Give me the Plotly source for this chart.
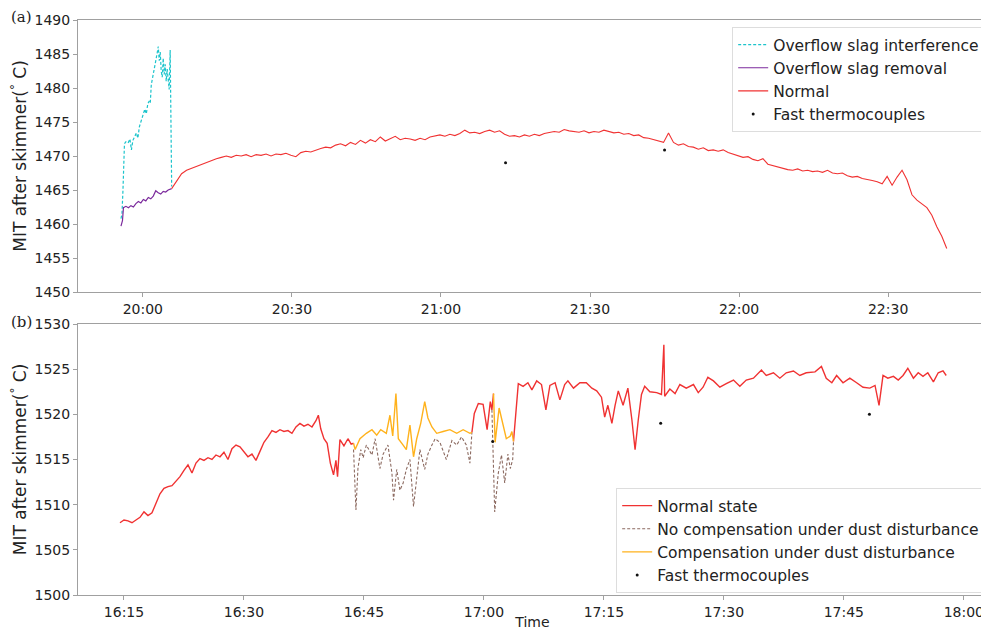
import pandas as pd
import plotly.graph_objects as go
from plotly.subplots import make_subplots

# ---------------- Panel (a): minutes after 20:00 ----------------
a_cyan_t = [-4.4, -4.2, -4.0, -3.7, -3.3, -2.9, -2.6, -2.3, -2.0, -1.6, -1.3, -1.0, -0.7, -0.4, -0.1,
            0.2, 0.4, 0.7, 1.0, 1.3, 1.5, 1.7, 2.0, 2.3, 2.6, 2.9, 3.1, 3.3, 3.5, 3.7, 3.9, 4.1,
            4.3, 4.5, 4.7, 4.9, 5.1, 5.3, 5.5, 5.65, 5.8]
a_cyan_v = [1460.8, 1461.5, 1465.0, 1471.8, 1472.2, 1472.0, 1472.5, 1470.9, 1472.3, 1473.0, 1473.4,
            1472.6, 1474.3, 1475.0, 1475.8, 1476.5, 1476.9, 1476.2, 1477.7, 1478.1, 1477.8, 1480.5,
            1481.5, 1483.0, 1484.0, 1485.2, 1486.1, 1484.0, 1485.3, 1482.5, 1481.6, 1484.4, 1482.0,
            1483.5, 1481.0, 1482.8, 1480.6, 1479.8, 1485.6, 1472.0, 1465.5]

a_purple_t = [-4.4, -4.1, -3.9, -3.4, -2.9, -2.4, -1.9, -1.4, -0.9, -0.4, 0.1, 0.6, 1.1, 1.6, 2.1,
              2.6, 3.1, 3.6, 4.1, 4.6, 5.1, 5.6, 5.8]
a_purple_v = [1459.7, 1460.5, 1462.4, 1462.6, 1462.4, 1462.7, 1462.5, 1463.0, 1463.3, 1463.1, 1463.6,
              1463.4, 1463.9, 1463.7, 1464.1, 1464.9, 1464.6, 1464.4, 1464.8, 1464.7, 1465.0, 1465.1,
              1465.2]

a_red_start = 5.8   # minutes after 20:00, one sample per minute
a_red_v = [1465.2, 1466.3, 1467.4, 1467.9, 1468.2, 1468.5, 1468.7, 1469.1, 1469.3, 1469.6,
           1469.8, 1470.0, 1469.8, 1470.1, 1470.0, 1470.2, 1469.9, 1470.2, 1470.1, 1470.3,
           1470.0, 1470.3, 1470.2, 1470.4, 1470.1, 1469.9, 1470.5, 1470.7, 1470.6, 1470.9,
           1471.1, 1471.3, 1471.2, 1471.6, 1471.8, 1471.5, 1472.0, 1471.7, 1472.3, 1471.9,
           1472.4, 1472.1, 1472.8, 1472.2, 1472.5, 1472.9, 1472.4, 1472.6, 1472.5, 1472.3,
           1472.6, 1472.4, 1472.8, 1472.9, 1473.1, 1472.9, 1473.2, 1473.0, 1473.3, 1473.8,
           1473.4, 1473.5, 1473.3, 1473.6, 1473.8, 1473.5, 1473.7, 1473.2, 1472.9, 1473.0,
           1472.8, 1473.1, 1472.9, 1473.2, 1473.0, 1473.3, 1473.4, 1473.6, 1473.5, 1473.9,
           1473.7, 1473.6, 1473.5, 1473.7, 1473.4, 1473.6, 1473.5, 1473.8, 1473.6, 1473.4,
           1473.5, 1473.2, 1473.3, 1473.0, 1473.1, 1472.7, 1472.6, 1472.4, 1472.2, 1472.0,
           1473.4, 1472.0, 1471.6, 1471.8, 1471.4, 1471.3, 1471.0, 1471.2, 1470.8, 1470.9,
           1470.7, 1470.9, 1470.5, 1470.3, 1470.0, 1469.8, 1469.9, 1469.5, 1469.3, 1469.6,
           1468.8, 1468.6, 1468.4, 1468.1, 1468.0, 1467.9, 1468.1, 1467.8, 1467.9, 1467.7,
           1467.8, 1467.6, 1467.9, 1467.5, 1467.4, 1467.5, 1467.1, 1466.9, 1467.0, 1466.7,
           1466.6, 1466.4, 1466.2, 1465.9, 1467.0, 1465.7, 1466.9, 1467.9, 1466.5, 1464.3,
           1463.5, 1462.9, 1462.4, 1461.3, 1459.6, 1458.2, 1456.4]

a_dots_t = [73.0, 105.0]
a_dots_v = [1469.0, 1470.9]

# ---------------- Panel (b): minutes after 16:15 ----------------
b_red1_t = [-0.5, 0.0, 0.5, 1.0, 1.5, 2.0, 2.5, 3.0, 3.5, 4.0, 4.5, 5.0, 5.5, 6.0, 6.5, 7.0, 7.5,
            8.0, 8.5, 9.0, 9.5, 10.0, 10.5, 11.0, 11.5, 12.0, 12.5, 13.0, 13.5, 14.0, 14.5, 15.0,
            15.5, 16.0, 16.5, 17.0, 17.5, 18.0, 18.5, 19.0, 19.5, 20.0, 20.5, 21.0, 21.5, 22.0,
            22.5, 23.0, 23.5, 24.0, 24.3, 24.6, 25.0, 25.4, 25.8, 26.2, 26.5, 26.7, 27.0, 27.5,
            28.0, 28.4, 28.7]
b_red1_v = [1508.0, 1508.3, 1508.2, 1508.0, 1508.3, 1508.6, 1509.2, 1508.8, 1509.1, 1510.2,
            1511.2, 1511.8, 1512.0, 1512.1, 1512.6, 1513.1, 1513.8, 1514.4, 1513.5, 1514.6,
            1515.1, 1514.9, 1515.2, 1515.0, 1515.5, 1515.3, 1515.8, 1515.0, 1516.2, 1516.6,
            1516.4, 1515.9, 1515.3, 1515.6, 1514.9, 1515.9, 1516.9, 1517.5, 1518.2, 1518.0,
            1518.3, 1518.1, 1518.2, 1517.9, 1518.6, 1519.0, 1518.7, 1518.9, 1518.6, 1519.3,
            1519.9, 1518.4, 1517.3, 1516.8, 1514.6, 1513.3, 1514.9, 1513.1, 1517.2, 1516.5,
            1517.3, 1516.7, 1516.8]
b_red2_t = [43.5, 43.8, 44.3, 44.9, 45.4, 45.8, 46.0, 46.2]
b_red2_v = [1518.0, 1520.1, 1521.2, 1521.1, 1518.3, 1521.4, 1520.5, 1522.3]
b_red3_t = [48.7, 49.3, 49.9, 50.5, 51.0, 51.6, 52.2, 52.75, 53.25, 53.9, 54.5, 55.1, 55.5, 56.2,
            57.0, 57.8, 58.5, 59.1, 59.7, 60.1, 60.5, 61.0, 61.4, 61.8, 62.4, 63.0, 63.5, 63.9,
            64.3, 64.7, 65.1, 65.75, 66.6, 67.2, 67.5, 67.6, 68.25, 68.9, 69.5, 70.3, 71.2, 71.8,
            72.4, 73.0, 73.7, 74.5, 75.3, 76.2, 77.0, 77.8, 78.7, 79.7, 80.3, 81.2, 82.0, 82.8,
            83.7, 84.5, 85.3, 86.4, 87.2, 87.8, 88.5, 89.1, 89.9, 90.75, 91.6, 92.4, 93.25, 93.9,
            94.4, 94.9, 95.5, 96.2, 96.8, 97.4, 98.0, 98.7, 99.3, 99.9, 100.5, 101.2, 101.8,
            102.4, 102.8]
b_red3_v = [1517.0, 1523.4, 1523.1, 1523.5, 1522.7, 1523.7, 1523.3, 1520.5, 1523.2, 1523.5,
            1521.6, 1523.3, 1523.7, 1522.9, 1523.5, 1523.5, 1522.9, 1522.6, 1521.9, 1519.7,
            1521.0, 1519.0, 1521.0, 1522.6, 1521.0, 1522.9, 1519.4, 1516.1, 1519.4, 1522.2,
            1523.1, 1522.5, 1522.4, 1522.2, 1527.7, 1522.0, 1522.8, 1522.3, 1523.3, 1522.9,
            1523.3, 1522.4, 1523.0, 1524.1, 1523.7, 1523.0, 1523.4, 1523.8, 1523.1, 1523.8,
            1524.0, 1524.9, 1524.3, 1524.6, 1524.0, 1524.6, 1524.8, 1524.3, 1524.6, 1524.7,
            1525.3, 1524.0, 1523.5, 1524.3, 1523.5, 1524.0, 1523.5, 1523.0, 1522.9, 1523.2,
            1521.0, 1524.3, 1524.0, 1524.2, 1523.8, 1524.3, 1525.1, 1524.0, 1524.6, 1524.2,
            1524.6, 1523.6, 1524.6, 1524.8, 1524.3]

b_orange1_t = [28.7, 28.9, 29.5, 30.3, 31.0, 31.6, 32.1, 32.8, 33.25, 33.6, 34.0, 34.3, 34.9, 35.3,
               35.75, 36.2, 36.6, 37.1, 37.6, 38.0, 38.5, 39.1, 39.9, 40.75, 41.6, 42.4, 43.25, 43.5]
b_orange1_v = [1516.8, 1516.1, 1517.3, 1517.9, 1518.3, 1517.7, 1518.3, 1517.9, 1519.9, 1517.6,
               1522.3, 1517.3, 1516.6, 1516.1, 1518.8, 1515.3, 1517.3, 1519.0, 1521.4, 1519.6,
               1518.6, 1517.9, 1518.1, 1518.3, 1517.9, 1518.3, 1517.9, 1518.0]
b_orange2_t = [46.2, 46.4, 46.9, 47.4, 47.8, 48.3, 48.5, 48.7]
b_orange2_v = [1522.3, 1516.9, 1520.7, 1518.6, 1517.3, 1517.6, 1518.1, 1517.0]

b_grey1_t = [28.7, 29.0, 29.25, 29.6, 29.9, 30.3, 31.0, 31.4, 32.0, 32.4, 33.0, 33.5, 33.7, 34.1,
             34.5, 34.9, 35.3, 35.75, 36.2, 36.6, 37.0, 37.6, 38.0, 38.5, 38.9, 39.5, 40.3, 41.0,
             41.6, 42.2, 42.8, 43.25, 43.5]
b_grey1_v = [1516.1, 1509.4, 1514.0, 1516.1, 1515.2, 1516.6, 1515.5, 1517.3, 1514.0, 1515.6,
             1516.6, 1513.5, 1510.5, 1513.9, 1511.6, 1512.4, 1513.9, 1515.0, 1509.8, 1513.0,
             1516.1, 1513.9, 1515.6, 1516.6, 1517.3, 1516.9, 1515.0, 1517.1, 1516.6, 1517.5,
             1516.6, 1514.6, 1518.0]
b_grey2_t = [46.0, 46.35, 46.8, 47.2, 47.6, 48.0, 48.3, 48.6, 48.7]
b_grey2_v = [1520.5, 1509.2, 1513.5, 1515.5, 1512.4, 1515.6, 1514.0, 1515.0, 1517.0]

b_dots_t = [46.1, 67.1, 93.2]
b_dots_v = [1517.0, 1519.0, 1520.0]

base_a = pd.Timestamp("2021-01-01 20:00:00")
base_b = pd.Timestamp("2021-01-02 16:15:00")


def tt(base, mins):
    return [base + pd.Timedelta(minutes=m) for m in mins]


def join(*segs):
    xs, ys = [], []
    for i, (t, v) in enumerate(segs):
        if i:
            xs.append(None)
            ys.append(None)
        xs += list(t)
        ys += list(v)
    return xs, ys


fig = make_subplots(rows=2, cols=1, vertical_spacing=0.0)

RED = "#f03232"
# Panel (a)
fig.add_trace(go.Scatter(x=tt(base_a, a_cyan_t), y=a_cyan_v, mode="lines", name="Overflow slag interference",
                         line=dict(color="#1cc4cc", width=1.2, dash="3px,2px"), legend="legend"), row=1, col=1)
fig.add_trace(go.Scatter(x=tt(base_a, a_purple_t), y=a_purple_v, mode="lines", name="Overflow slag removal",
                         line=dict(color="#7b2a9c", width=1.2), legend="legend"), row=1, col=1)
a_red_t = [a_red_start + i for i in range(len(a_red_v))]
fig.add_trace(go.Scatter(x=tt(base_a, a_red_t), y=a_red_v, mode="lines", name="Normal",
                         line=dict(color=RED, width=1.1), legend="legend"), row=1, col=1)
fig.add_trace(go.Scatter(x=tt(base_a, a_dots_t), y=a_dots_v, mode="markers", name="Fast thermocouples",
                         marker=dict(color="#111", size=3), legend="legend"), row=1, col=1)

# Panel (b)
rx, ry = join((tt(base_b, b_red1_t), b_red1_v), (tt(base_b, b_red2_t), b_red2_v), (tt(base_b, b_red3_t), b_red3_v))
fig.add_trace(go.Scatter(x=rx, y=ry, mode="lines", name="Normal state", connectgaps=False,
                         line=dict(color=RED, width=1.4), legend="legend2"), row=2, col=1)
gx, gy = join((tt(base_b, b_grey1_t), b_grey1_v), (tt(base_b, b_grey2_t), b_grey2_v))
fig.add_trace(go.Scatter(x=gx, y=gy, mode="lines", name="No compensation under dust disturbance", connectgaps=False,
                         line=dict(color="#8c6a60", width=1.1, dash="3px,2px"), legend="legend2"), row=2, col=1)
ox, oy = join((tt(base_b, b_orange1_t), b_orange1_v), (tt(base_b, b_orange2_t), b_orange2_v))
fig.add_trace(go.Scatter(x=ox, y=oy, mode="lines", name="Compensation under dust disturbance", connectgaps=False,
                         line=dict(color="#ffb21c", width=1.4), legend="legend2"), row=2, col=1)
fig.add_trace(go.Scatter(x=tt(base_b, b_dots_t), y=b_dots_v, mode="markers", name="Fast thermocouples",
                         marker=dict(color="#111", size=3), legend="legend2"), row=2, col=1)

axis_common = dict(showline=True, mirror=True, linecolor="#a0a0a0", linewidth=1, ticks="outside",
                   ticklen=4, tickcolor="#a0a0a0", showgrid=False, zeroline=False, automargin=False,
                   tickfont=dict(family="DejaVu Sans", size=14, color="#222"))

# page has an 8px body margin, so the figure is 8px smaller than the window
W, H = 981, 622
ML, MR, MT, MB = 70, 2, 12, 35
plot_h = H - MT - MB  # 575
plot_w = W - ML - MR  # 909

fig.update_xaxes(**axis_common)
fig.update_yaxes(**axis_common)
fig.update_layout(
    xaxis=dict(type="date", range=[base_a + pd.Timedelta(minutes=-13.05), base_a + pd.Timedelta(minutes=169.9)],
               tickformat="%H:%M", dtick=30 * 60 * 1000, tick0=base_a, anchor="y"),
    yaxis=dict(range=[1450, 1490], dtick=5, domain=[303 / plot_h, 1.0],
               title=dict(text="MIT after skimmer(<sup>°</sup> C)", standoff=12,
                          font=dict(family="DejaVu Sans", size=17, color="#222"))),
    xaxis2=dict(type="date", range=[base_b + pd.Timedelta(minutes=-5.75), base_b + pd.Timedelta(minutes=107.9)],
                tickformat="%H:%M", dtick=15 * 60 * 1000, tick0=base_b, anchor="y2",
                title=dict(text="Time", standoff=2, font=dict(family="DejaVu Sans", size=14, color="#222"))),
    yaxis2=dict(range=[1500, 1530], dtick=5, domain=[0.0, 271 / plot_h],
                title=dict(text="MIT after skimmer(<sup>°</sup> C)", standoff=12,
                           font=dict(family="DejaVu Sans", size=17, color="#222"))),
    width=W, height=H,
    margin=dict(l=ML, r=MR, t=MT, b=MB),
    paper_bgcolor="white", plot_bgcolor="white",
    font=dict(family="DejaVu Sans", color="#222"),
    legend=dict(x=0.998, y=(587 - 19) / plot_h, xanchor="right", yanchor="top", bgcolor="rgba(255,255,255,0.9)",
                bordercolor="#dddddd", borderwidth=1, font=dict(family="DejaVu Sans", size=15.5, color="#222"),
                tracegroupgap=0),
    legend2=dict(x=0.998, y=(587 - 480) / plot_h, xanchor="right", yanchor="top", bgcolor="rgba(255,255,255,0.9)",
                 bordercolor="#dddddd", borderwidth=1, font=dict(family="DejaVu Sans", size=15.5, color="#222"),
                 tracegroupgap=0),
    annotations=[
        dict(text="(a)", xref="paper", yref="paper", x=-69 / plot_w, y=(587 - 9) / plot_h, xanchor="left",
             yanchor="middle", showarrow=False, font=dict(family="DejaVu Serif", size=15, color="#222")),
        dict(text="(b)", xref="paper", yref="paper", x=-69 / plot_w, y=(587 - 314) / plot_h, xanchor="left",
             yanchor="middle", showarrow=False, font=dict(family="DejaVu Serif", size=15, color="#222")),
    ],
)

fig.write_html("out.html")
